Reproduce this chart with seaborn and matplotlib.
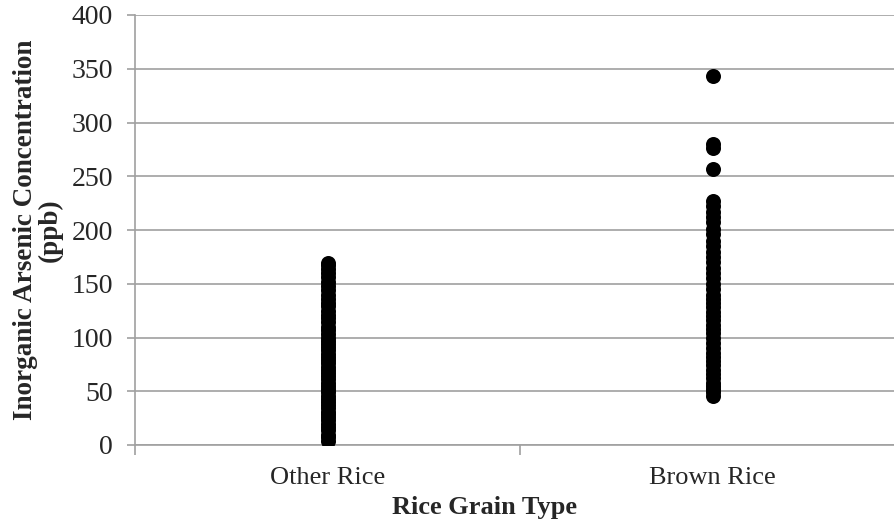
import matplotlib
matplotlib.use("Agg")
import matplotlib.pyplot as plt
import seaborn as sns
import pandas as pd

categories = ["Other Rice", "Brown Rice"]

other_rice = [4, 7, 9, 14, 17, 20, 23, 26, 29, 31, 34, 37, 40, 43, 46, 49, 52, 55,
              58, 61, 64, 67, 70, 73, 76, 79, 82, 85, 88, 91, 94, 97, 100, 103, 107,
              110, 114, 118, 121, 125, 129, 132, 136, 140, 144, 148, 152, 156, 160,
              164, 167, 169]

brown_rice = [46, 49, 52, 55, 58, 62, 66, 70, 74, 78, 82, 86, 90, 95, 100, 104,
              108, 112, 116, 120, 124, 128, 132, 136, 140, 145, 150, 155, 160, 165,
              170, 175, 180, 185, 190, 196, 201, 207, 212, 217, 222, 227, 257, 276,
              280, 343]

y_ticks = [0, 50, 100, 150, 200, 250, 300, 350, 400]

df = pd.DataFrame({
    "type": [categories[0]] * len(other_rice) + [categories[1]] * len(brown_rice),
    "value": other_rice + brown_rice,
})

sns.set_style("white")
plt.rcParams["font.family"] = ["Liberation Serif", "DejaVu Serif"]

fig = plt.figure(figsize=(8.94, 5.23), dpi=100)
ax = fig.add_axes([135 / 894, (523 - 445) / 523, 770 / 894, 430 / 523])

sns.stripplot(data=df, x="type", y="value", order=categories, jitter=False,
              color="black", size=10.8, linewidth=0, ax=ax, zorder=3)

grid_c = "#a0a0a0"
ax.set_ylim(0, 400)
ax.set_xlim(-0.5, 1.5)
ax.set_yticks(y_ticks)
ax.yaxis.grid(True, color=grid_c, linewidth=1.2, zorder=0)
ax.set_axisbelow(True)

for s in ["top", "right"]:
    ax.spines[s].set_visible(False)
for s in ["left", "bottom"]:
    ax.spines[s].set_color(grid_c)
    ax.spines[s].set_linewidth(1.2)

ax.tick_params(axis="y", which="major", direction="out", length=6, width=1.2,
               color=grid_c, labelsize=20, pad=10, left=True)
ax.set_xticks([0, 1])
ax.set_xticklabels(categories)
ax.set_xticks([-0.5, 0.5, 1.5], minor=True)
ax.tick_params(axis="x", which="major", length=0, labelsize=19, pad=16)
ax.tick_params(axis="x", which="minor", direction="out", length=7, width=1.2,
               color=grid_c, bottom=True)

ax.set_xlabel("Rice Grain Type", fontsize=19, fontweight="bold", labelpad=5)
ax.xaxis.label.set_x((485 - 135) / 770)
ax.set_ylabel("Inorganic Arsenic Concentration\n(ppb)", fontsize=19.5,
              fontweight="bold", labelpad=6, linespacing=0.98)

fig.savefig("out.png", dpi=100)
